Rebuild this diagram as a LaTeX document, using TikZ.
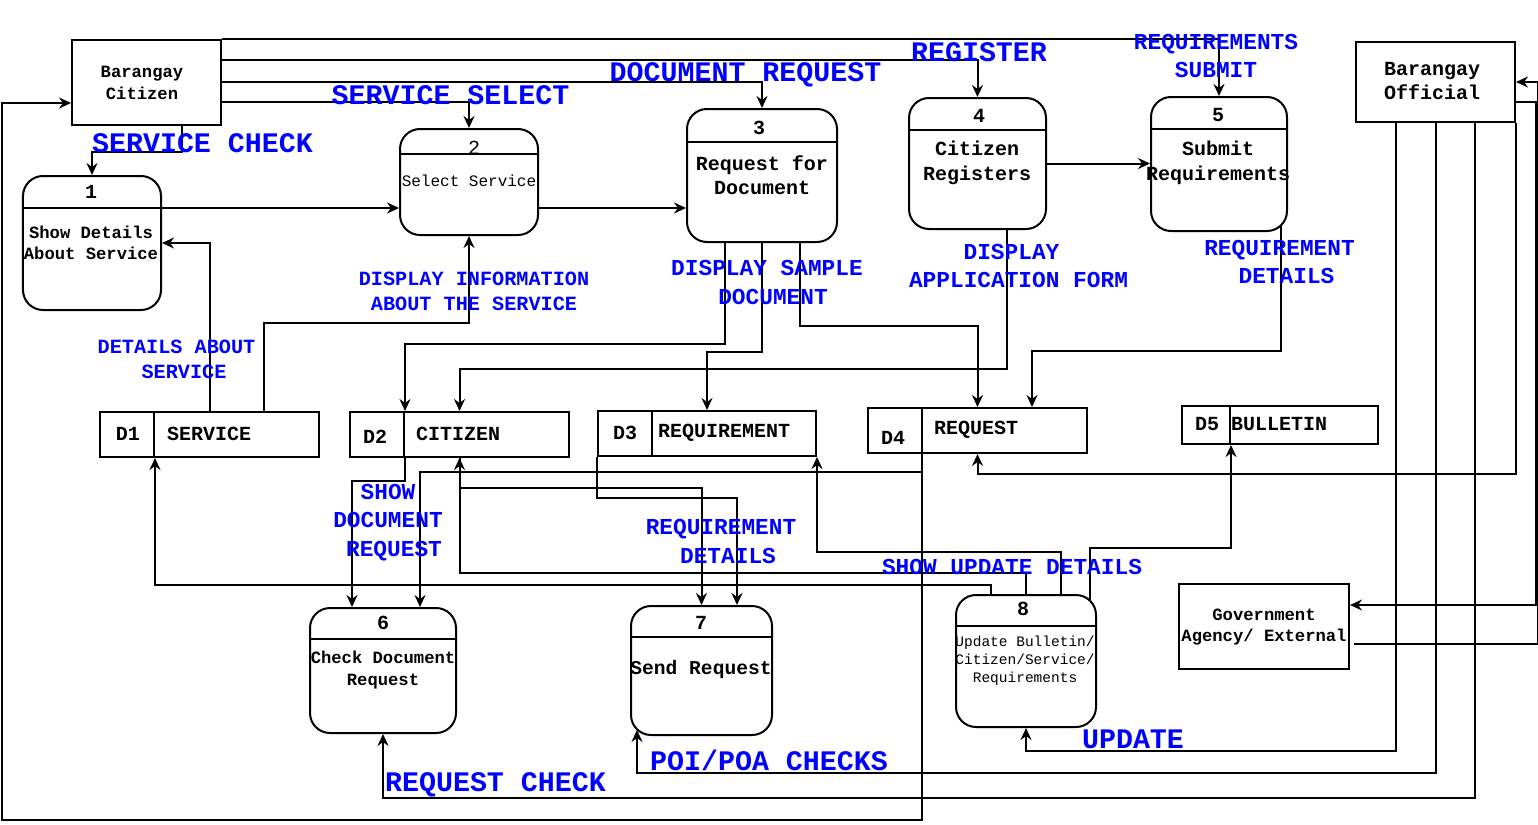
\documentclass[tikz,border=0pt]{standalone}
\usepackage{fontspec}
\setmainfont{Liberation Mono}
\usetikzlibrary{arrows.meta,calc}
\newcommand\szL{\fontsize{28.3bp}{34bp}\selectfont}
\newcommand\szM{\fontsize{22.8bp}{28.5bp}\selectfont}
\newcommand\szR{\fontsize{20.2bp}{25bp}\selectfont}
\newcommand\szN{\fontsize{20bp}{24.5bp}\selectfont}
\newcommand\szS{\fontsize{17.2bp}{21.5bp}\selectfont}
\newcommand\szT{\fontsize{16bp}{20bp}\selectfont}
\newcommand\szU{\fontsize{14.5bp}{18bp}\selectfont}
\tikzset{
 ln/.style={line width=2bp},
 arr/.style={ln,-{Stealth[length=12bp,width=11bp,inset=4bp]}},
 ent/.style={draw,ln,rectangle,inner sep=0},
 proc/.style={draw,ln,rounded corners=20bp,inner sep=0},
 store/.style={draw,ln,inner sep=0},
 lbl/.style={text=blue,inner sep=0,align=center},
 txt/.style={inner sep=0,align=center},
}
\begin{document}
\begin{tikzpicture}[x=1bp,y=-1bp]
\useasboundingbox (0,0) rectangle (1538,824);
% entities
\node[ent,minimum width=149bp,minimum height=85bp] (citizen) at (146.5,82.5) {};
\node[ent,minimum width=159bp,minimum height=80bp] (official) at (1435.5,82) {};
\node[ent,minimum width=170bp,minimum height=85bp] (gov) at (1264,626.5) {};
\node[txt,font=\bfseries\szS] (citizent) at (142,83) {Barangay\\Citizen};
\node[txt,font=\bfseries\szN] (officialt) at (1432,81) {Barangay\\Official};
\node[txt,font=\bfseries\szS] (govt) at (1264,627) {Government\\Agency/ External};
% processes
\node[proc,minimum width=138bp,minimum height=134bp] (p1) at (92,243) {};
\node[proc,minimum width=138bp,minimum height=106bp] (p2) at (469,182) {};
\node[proc,minimum width=150bp,minimum height=133bp] (p3) at (762,175.5) {};
\node[proc,minimum width=137bp,minimum height=131bp] (p4) at (977.5,163.5) {};
\node[proc,minimum width=136bp,minimum height=134bp] (p5) at (1219,164) {};
\node[proc,minimum width=146bp,minimum height=125bp] (p6) at (383,670.5) {};
\node[proc,minimum width=141bp,minimum height=129bp] (p7) at (701.5,670.5) {};
\node[proc,minimum width=140bp,minimum height=132bp] (p8) at (1026,661) {};
\draw[ln] ([yshift=-33bp]p1.north west) -- ([yshift=-33bp]p1.north east);
\draw[ln] ([yshift=-26bp]p2.north west) -- ([yshift=-26bp]p2.north east);
\draw[ln] ([yshift=-34bp]p3.north west) -- ([yshift=-34bp]p3.north east);
\draw[ln] ([yshift=-33bp]p4.north west) -- ([yshift=-33bp]p4.north east);
\draw[ln] ([yshift=-33bp]p5.north west) -- ([yshift=-33bp]p5.north east);
\draw[ln] ([yshift=-32bp]p6.north west) -- ([yshift=-32bp]p6.north east);
\draw[ln] ([yshift=-32bp]p7.north west) -- ([yshift=-32bp]p7.north east);
\draw[ln] ([yshift=-32bp]p8.north west) -- ([yshift=-32bp]p8.north east);
\node[txt,font=\bfseries\szN] (p1n) at (91,192) {1};
\node[txt,font=\bfseries\szS] (p1t) at (91,243) {Show Details\\About Service};
\node[txt,font=\szN] (p2n) at (474,148) {2};
\node[txt,font=\szT] (p2t) at (469,181) {Select Service};
\node[txt,font=\bfseries\szN] (p3n) at (759,128) {3};
\node[txt,font=\bfseries\szN] (p3t) at (762,175) {Request for\\Document};
\node[txt,font=\bfseries\szN] (p4n) at (979,116) {4};
\node[txt,font=\bfseries\szN] (p4t) at (977,163) {Citizen\\Registers};
\node[txt,font=\bfseries\szN] (p5n) at (1218,115) {5};
\node[txt,font=\bfseries\szN] (p5t) at (1218,163) {Submit\\Requirements};
\node[txt,font=\bfseries\szN] (p6n) at (383,623) {6};
\node[txt,font=\bfseries\szS] (p6t) at (383,670) {Check Document\\Request};
\node[txt,font=\bfseries\szN] (p7n) at (701,623) {7};
\node[txt,font=\bfseries\fontsize{19.6bp}{24bp}\selectfont] (p7t) at (701,669) {Send Request};
\node[txt,font=\bfseries\szN] (p8n) at (1023,609) {8};
\node[txt,font=\szU] (p8t) at (1025,661) {Update Bulletin/\\Citizen/Service/\\Requirements};
% data stores
\node[store,minimum width=219bp,minimum height=45bp] (d1) at (209.5,434.5) {};
\node[store,minimum width=219bp,minimum height=45bp] (d2) at (459.5,434.5) {};
\node[store,minimum width=218bp,minimum height=45bp] (d3) at (707,433.5) {};
\node[store,minimum width=219bp,minimum height=45bp] (d4) at (977.5,430.5) {};
\node[store,minimum width=196bp,minimum height=38bp] (d5) at (1280,425) {};
\draw[ln] ([xshift=55bp]d1.north west) -- ([xshift=55bp]d1.south west);
\draw[ln] ([xshift=55bp]d2.north west) -- ([xshift=55bp]d2.south west);
\draw[ln] ([xshift=55bp]d3.north west) -- ([xshift=55bp]d3.south west);
\draw[ln] ([xshift=55bp]d4.north west) -- ([xshift=55bp]d4.south west);
\draw[ln] ([xshift=49bp]d5.north west) -- ([xshift=49bp]d5.south west);
\node[txt,font=\bfseries\szN] (d1a) at (128,434) {D1};
\node[txt,font=\bfseries\szN,anchor=west] (d1b) at (167,434) {SERVICE};
\node[txt,font=\bfseries\szN] (d2a) at (375,437) {D2};
\node[txt,font=\bfseries\szN,anchor=west] (d2b) at (416,434) {CITIZEN};
\node[txt,font=\bfseries\szN] (d3a) at (625,433) {D3};
\node[txt,font=\bfseries\szN,anchor=west] (d3b) at (658,433) {REQUIREMENT};
\node[txt,font=\bfseries\szN] (d4a) at (893,438) {D4};
\node[txt,font=\bfseries\szN,anchor=west] (d4b) at (934,430) {REQUEST};
\node[txt,font=\bfseries\szN] (d5a) at (1207,424) {D5};
\node[txt,font=\bfseries\szN,anchor=west] (d5b) at (1231,424) {BULLETIN};
% helper coordinates
\coordinate (h1) at ([yshift=-33bp]p1.north east);
\coordinate (lc) at (2,820);
% connectors from citizen
\draw[arr] (citizen.north east) -| (p5.north);
\draw[arr] ([yshift=-21bp]citizen.north east) -| (p4.north);
\draw[arr] ([yshift=-43bp]citizen.north east) -| (p3.north);
\draw[arr] ([yshift=-63bp]citizen.north east) -| (p2.north);
\draw[arr] ([xshift=35bp]citizen.south) -- ++(0,26) -| (p1.north);
% process to process
\draw[arr] (h1) -- (h1 -| p2.west);
\draw[arr] (h1 -| p2.east) -- (h1 -| p3.west);
\draw[arr] (p4.east) -- (p4.east -| p5.west);
% stores to processes
\draw[arr] (d1.north) |- (p1.east);
\draw[arr] ([xshift=54.5bp]d1.north) -- ++(0,-88) -| (p2.south);
\draw[arr] ([xshift=-37bp]p3.south) -- ++(0,101) -| ([xshift=-54.5bp]d2.north);
\draw[arr] (p3.south) -- ++(0,109) -| (d3.north);
\draw[arr] ([xshift=38bp]p3.south) -- ++(0,83) -| (d4.north);
\draw[arr] ([xshift=29.5bp]p4.south) -- ++(0,139) -| (d2.north);
\draw[arr] ([xshift=62bp,yshift=6bp]p5.south) -- ++(0,125) -| ([xshift=54.5bp]d4.north);
\draw[arr] (official.south east) -- ++(0,351) -| (d4.south);
\draw[arr] ([xshift=64bp,yshift=-6bp]p8.north) -- ++(0,-52) -| ([xshift=-49bp]d5.south);
\draw[arr] ([xshift=35bp]p8.north) -- ++(0,-42) -| (d3.south east);
\draw[arr] (p8.north) -- ++(0,-21) -| (d2.south);
\draw[arr] ([xshift=-35bp]p8.north) -- ++(0,-9) -| ([xshift=-54.5bp]d1.south);
\draw[arr] ([xshift=-54.5bp]d2.south) -- ++(0,23) -| ([xshift=-31bp]p6.north);
\draw[arr] ([xshift=-55.5bp]d4.south) -- ++(0,18) -| ([xshift=37bp]p6.north);
\draw[arr] ([xshift=-55.5bp]d4.south) |- (lc) |- ([yshift=-20.5bp]citizen.west);
\draw[arr] (d2.south) -- ++(0,30) -| (p7.north);
\draw[arr] (d3.south west) -- ++(0,41) -| ([xshift=35.5bp]p7.north);
% official
\draw[arr] ([xshift=-39.5bp]official.south) -- ++(0,628) -| (p8.south);
\draw[arr] (official.south) -- ++(0,650) -| ([xshift=-64.5bp,yshift=6bp]p7.south);
\draw[arr] ([xshift=39.5bp]official.south) -- ++(0,675) -| (p6.south);
\draw[arr] ([yshift=-20bp]official.east) -- ++(20,0) |- ([yshift=21.5bp]gov.east);
\draw[arr] ([xshift=4bp,yshift=-17.5bp]gov.east) -- ++(184,0) |- (official.east);
% labels
\node[lbl,font=\bfseries\szL] (l1) at (202.5,143) {SERVICE CHECK};
\node[lbl,font=\bfseries\szL] (l2) at (450.5,95) {SERVICE SELECT};
\node[lbl,font=\bfseries\szL] (l3) at (745.5,75) {DOCUMENT REQUEST};
\node[lbl,font=\bfseries\szL] (l4) at (979,52) {REGISTER};
\node[lbl,font=\bfseries\szM] (l5) at (1216,56) {REQUIREMENTS\\SUBMIT};
\node[lbl,font=\bfseries\szR] (l6) at (474,291.5) {DISPLAY INFORMATION\\ABOUT THE SERVICE};
\node[lbl,font=\bfseries\szR] (l7) at (176.5,359.5) {DETAILS ABOUT\\\hspace*{15bp}SERVICE};
\node[lbl,font=\bfseries\szM] (l8) at (767,282.5) {DISPLAY SAMPLE\\\hspace*{12bp}DOCUMENT};
\node[lbl,font=\bfseries\szM] (l9) at (1018.5,266) {DISPLAY\hspace*{14bp}\\APPLICATION FORM};
\node[lbl,font=\bfseries\szM] (l10) at (1279.5,262) {REQUIREMENT\\\hspace*{14bp}DETAILS};
\node[lbl,font=\bfseries\szM] (l11) at (388,522.5) {SHOW\\DOCUMENT\\\hspace*{12bp}REQUEST};
\node[lbl,font=\bfseries\szM] (l12) at (721,541.5) {REQUIREMENT\\\hspace*{14bp}DETAILS};
\node[lbl,font=\bfseries\szM] (l13) at (1012,567) {SHOW UPDATE DETAILS};
\node[lbl,font=\bfseries\szL] (l14) at (1133,739) {UPDATE};
\node[lbl,font=\bfseries\szL] (l15) at (769,760) {POI/POA CHECKS};
\node[lbl,font=\bfseries\szL] (l16) at (495.5,785) {REQUEST CHECK};
\end{tikzpicture}
\end{document}
